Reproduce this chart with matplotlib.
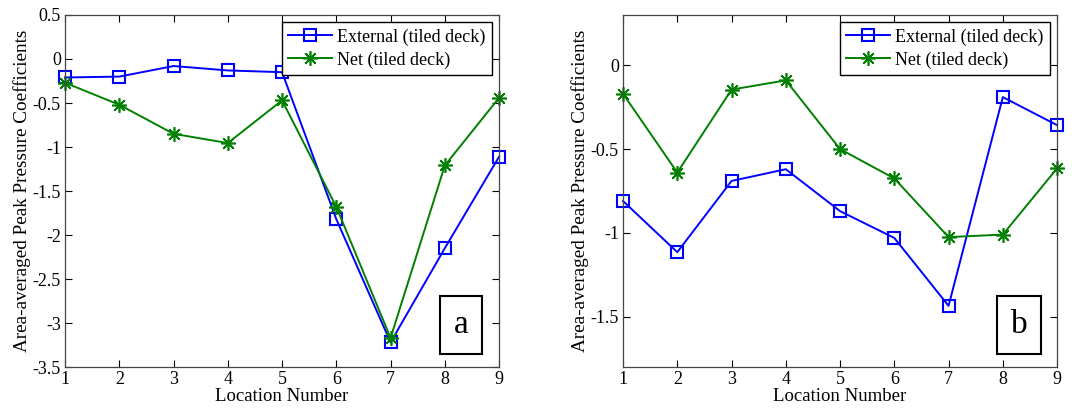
import matplotlib
matplotlib.use("Agg")
import matplotlib.pyplot as plt

plt.rcParams['font.family'] = ['Liberation Serif', 'DejaVu Serif']

locations = [1, 2, 3, 4, 5, 6, 7, 8, 9]

ext_a = [-0.21, -0.20, -0.08, -0.13, -0.15, -1.82, -3.22, -2.15, -1.11]
net_a = [-0.27, -0.52, -0.85, -0.955, -0.47, -1.68, -3.17, -1.21, -0.44]

ext_b = [-0.81, -1.115, -0.69, -0.62, -0.87, -1.03, -1.435, -0.19, -0.357]
net_b = [-0.17, -0.64, -0.145, -0.09, -0.50, -0.675, -1.025, -1.01, -0.615]

yticks_a = [0.5, 0, -0.5, -1, -1.5, -2, -2.5, -3, -3.5]
yticks_b = [0, -0.5, -1, -1.5]
ylim_a = (-3.5, 0.5)
ylim_b = (-1.8, 0.3)
panel_labels = ['a', 'b']

blue = '#0000FF'
green = '#008000'

fig = plt.figure(figsize=(10.77, 4.12), dpi=100)
ax1 = fig.add_axes([0.0604, 0.1092, 0.403, 0.8544])
ax2 = fig.add_axes([0.5785, 0.1092, 0.403, 0.8544])

def fmt(v):
    return '%g' % v

for ax, ext, net, yt, yl, lab in [(ax1, ext_a, net_a, yticks_a, ylim_a, panel_labels[0]),
                                  (ax2, ext_b, net_b, yticks_b, ylim_b, panel_labels[1])]:
    ax.plot(locations, ext, color=blue, lw=1.4, marker='s', ms=8.5, mfc='none',
            mec=blue, mew=1.5, label='External (tiled deck)', clip_on=False)
    ax.plot(locations, net, color=green, lw=1.4, marker=(8, 2, 0), ms=10.5,
            mec=green, mew=1.2, label='Net (tiled deck)', clip_on=False)
    ax.set_xlim(1, 9)
    ax.set_ylim(*yl)
    ax.set_xticks(locations)
    ax.set_yticks(yt)
    ax.set_yticklabels([fmt(v) for v in yt])
    ax.tick_params(direction='in', top=True, right=True, labelsize=13, length=5,
                   width=0.8, pad=3)
    ax.set_xlabel('Location Number', fontsize=13.5, labelpad=0)
    ax.set_ylabel('Area-averaged Peak Pressure Coefficients', fontsize=13.8, labelpad=1)
    for sp in ax.spines.values():
        sp.set_linewidth(0.9)
        sp.set_color('#444444')
    leg = ax.legend(loc='upper right', fontsize=13, frameon=True, fancybox=False,
                    edgecolor='black', framealpha=1, borderaxespad=0.4,
                    handlelength=2.4, handletextpad=0.3, borderpad=0.35, labelspacing=0.3)
    leg.get_frame().set_linewidth(1.0)
    leg.set_zorder(5)
    ax.text(0.912, 0.119, lab, transform=ax.transAxes, fontsize=24, ha='center', va='center',
            bbox=dict(boxstyle='square,pad=0.42', facecolor='white', edgecolor='black', linewidth=1.5))

fig.savefig('out.png', dpi=100)
